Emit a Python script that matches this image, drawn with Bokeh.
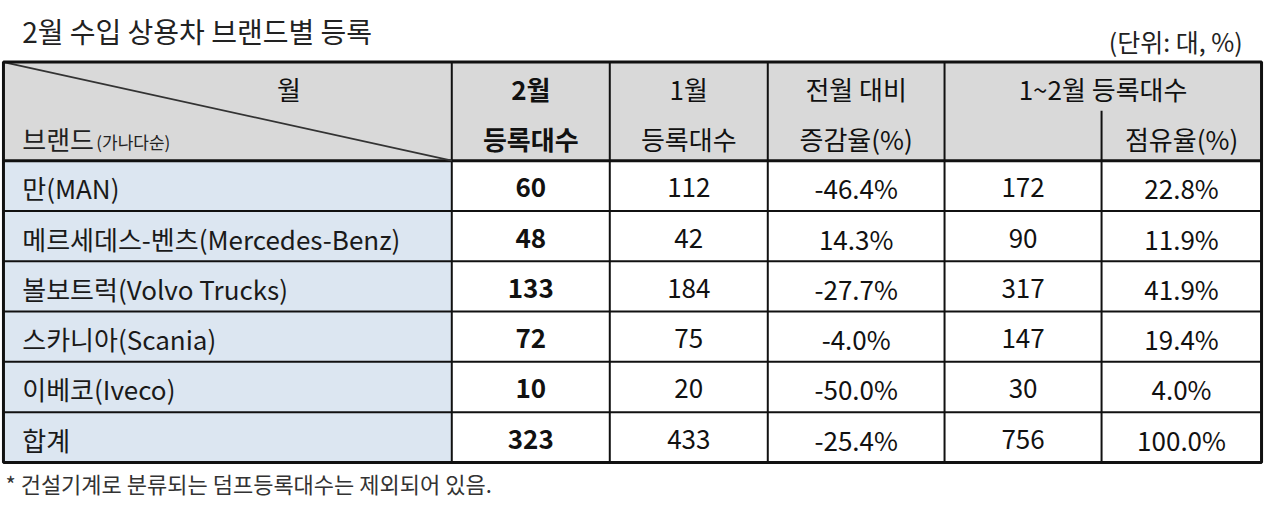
from bokeh.plotting import figure
from bokeh.models import Range1d
from bokeh.core.properties import value
from bokeh.embed import file_html
from bokeh.resources import INLINE

# ---------------- data ----------------
title_text = "2월 수입 상용차 브랜드별 등록"
unit_text = "(단위: 대, %)"
note_text = "* 건설기계로 분류되는 덤프등록대수는 제외되어 있음."

brands = ["만(MAN)", "메르세데스-벤츠(Mercedes-Benz)", "볼보트럭(Volvo Trucks)",
          "스카니아(Scania)", "이베코(Iveco)", "합계"]
feb_units = [60, 48, 133, 72, 10, 323]
jan_units = [112, 42, 184, 75, 20, 433]
mom_change = [-46.4, 14.3, -27.7, -4.0, -50.0, -25.4]
cum_units = [172, 90, 317, 147, 30, 756]
cum_share = [22.8, 11.9, 41.9, 19.4, 4.0, 100.0]

hdr_row1 = ["월", "2월", "1월", "전월 대비", "1~2월 등록대수"]
hdr_row2 = ["등록대수", "등록대수", "증감율(%)", "점유율(%)"]
hdr_brand = "브랜드"
hdr_brand_sub = "(가나다순)"

# ---------------- layout ----------------
FONT = value("Noto Sans CJK KR")
edges = [3, 457, 617, 777, 956, 1115, 1277]
top, hdr_mid, hdr_bot, bottom = 63, 113, 164, 473
n = len(brands)
row_h = (bottom - hdr_bot) / n
row_top = [hdr_bot + i * row_h for i in range(n)]
row_bot = [t + row_h for t in row_top]
row_mid = [t + row_h / 2 + 2 for t in row_top]
centers = [(edges[i] + edges[i + 1]) / 2 for i in range(len(edges) - 1)]

p = figure(width=1264, height=502, output_backend="svg", toolbar_location=None,
           x_range=Range1d(0, 1280), y_range=Range1d(514, 0),
           min_border=0, background_fill_color="white", border_fill_color="white")
p.axis.visible = False
p.grid.visible = False
p.outline_line_color = None

# header background
p.quad(left=[edges[0]], right=[edges[-1]], top=[top], bottom=[hdr_bot],
       fill_color="#d9d9d9", line_color=None)
# brand column background
p.quad(left=[edges[0]] * n, right=[edges[1]] * n, top=row_top, bottom=row_bot,
       fill_color="#dce6f1", line_color=None)

# grid lines
hy = row_top[1:]
p.segment(x0=[edges[0]] * len(hy), x1=[edges[-1]] * len(hy), y0=hy, y1=hy,
          line_color="#111111", line_width=2)
p.segment(x0=[edges[0]], x1=[edges[-1]], y0=[hdr_bot], y1=[hdr_bot],
          line_color="#111111", line_width=3)
vx = edges[1:5]
p.segment(x0=vx, x1=vx, y0=[top] * len(vx), y1=[bottom] * len(vx),
          line_color="#111111", line_width=2)
p.segment(x0=[edges[5]], x1=[edges[5]], y0=[hdr_mid], y1=[bottom],
          line_color="#111111", line_width=2)
# diagonal
p.segment(x0=[edges[0]], x1=[edges[1]], y0=[top], y1=[hdr_bot],
          line_color="#333333", line_width=1.8)
# outer border
p.quad(left=[edges[0]], right=[edges[-1]], top=[top], bottom=[bottom],
       fill_color=None, line_color="#111111", line_width=3)

def txt(x, y, t, size="26px", align="center", style="normal", color="#111111"):
    p.text(x=x, y=y, text=t, text_font=FONT, text_font_size=size,
           text_align=align, text_baseline="middle", text_font_style=style,
           text_color=color)

# titles
txt([22], [31], [title_text], size="28px", align="left", color="#222222")
txt([1258], [41], [unit_text], size="25px", align="right", color="#222222")
txt([5], [494], [note_text], size="22px", align="left", color="#333333")

# header
y1, y2 = 90, 141
txt([292], [y1], [hdr_row1[0]])
txt([centers[1]], [y1], [hdr_row1[1]], style="bold")
txt([centers[2]], [y1], [hdr_row1[2]])
txt([centers[3]], [y1], [hdr_row1[3]])
txt([(edges[4] + edges[6]) / 2], [y1], [hdr_row1[4]])
txt([22], [y2], [hdr_brand], align="left", color="#222222")
txt([97], [y2 + 3], [hdr_brand_sub], size="17px", align="left", color="#222222")
txt([centers[1]], [y2], [hdr_row2[0]], style="bold")
txt([centers[2]], [y2], [hdr_row2[1]])
txt([centers[3]], [y2], [hdr_row2[2]])
txt([centers[5]], [y2], [hdr_row2[3]])

# body
txt([22] * n, row_mid, brands, align="left", color="#1a1a1a")
txt([centers[1]] * n, row_mid, [str(v) for v in feb_units], style="bold")
txt([centers[2]] * n, row_mid, [str(v) for v in jan_units])
txt([centers[3]] * n, row_mid, [f"{v:.1f}%" for v in mom_change])
txt([centers[4]] * n, row_mid, [str(v) for v in cum_units])
txt([centers[5]] * n, row_mid, [f"{v:.1f}%" for v in cum_share])

open("out.html", "w").write(file_html(p, INLINE))
